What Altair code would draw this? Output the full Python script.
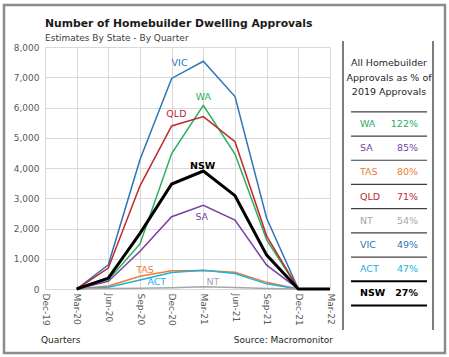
import altair as alt
import pandas as pd

quarters = ["Dec-19", "Mar-20", "Jun-20", "Sep-20", "Dec-20", "Mar-21", "Jun-21", "Sep-21", "Dec-21", "Mar-22"]
states = ["VIC", "WA", "QLD", "NSW", "SA", "TAS", "ACT", "NT"]
VIC = [None, 0, 800, 4280, 6960, 7530, 6360, 2340, 0, 0]
WA  = [None, 0, 300, 1490, 4480, 6070, 4460, 1620, 0, 0]
QLD = [None, 0, 690, 3410, 5390, 5700, 4870, 1750, 0, 0]
NSW = [None, 0, 360, 1840, 3470, 3900, 3085, 1120, 0, 0]
SA  = [None, 0, 250, 1250, 2390, 2770, 2280, 790, 0, 0]
TAS = [None, 0, 100, 420, 605, 615, 550, 220, 0, 0]
ACT = [None, 0, 60, 300, 545, 617, 515, 170, 0, 0]
NT  = [None, 0, 15, 25, 45, 75, 50, 20, 0, 0]
series = [VIC, WA, QLD, NSW, SA, TAS, ACT, NT]
colors = ["#2E75B6", "#2BAE5C", "#C0282D", "#000000", "#7B3FA6", "#ED7D31", "#1EB0E0", "#A6A6A6"]

# label anchors (quarter index, value) for line labels
label_q = [4.25, 5.0, 4.15, 4.98, 4.95, 3.16, 3.53, 5.3]
label_v = [7470, 6350, 5785, 4070, 2380, 630, 220, 220]

# side table
tbl_states = ["WA", "SA", "TAS", "QLD", "NT", "VIC", "ACT", "NSW"]
tbl_pct = ["122%", "85%", "80%", "71%", "54%", "49%", "47%", "27%"]
tbl_colors = ["#2BAE5C", "#7B3FA6", "#ED7D31", "#C0282D", "#A6A6A6", "#2E75B6", "#1EB0E0", "#000000"]

FONT = "DejaVu Sans"

rows = []
for s, vals in zip(states, series):
    for i, v in enumerate(vals):
        if v is not None:
            rows.append({"state": s, "q": i, "value": v})
df = pd.DataFrame(rows)

color_scale = alt.Scale(domain=states, range=colors)
label_expr = "[" + ",".join(f"'{q}'" for q in quarters) + "][datum.value]"

x_enc = alt.X("q:Q", scale=alt.Scale(domain=[0, 9], nice=False),
              axis=alt.Axis(values=list(range(10)), labelExpr=label_expr, labelAngle=90,
                            labelAlign="left", labelBaseline="middle", labelFont=FONT,
                            labelFontSize=9, labelColor="#595959", labelPadding=4,
                            labelOverlap=False, labelFlush=False,
                            domain=False, ticks=False, grid=True, gridColor="#D9D9D9",
                            title=None))
y_enc = alt.Y("value:Q", scale=alt.Scale(domain=[0, 8000], nice=False),
              axis=alt.Axis(values=list(range(0, 8001, 1000)), format=",.0f", labelFont=FONT,
                            labelFontSize=9, labelColor="#595959", labelPadding=6,
                            labelOverlap=False, labelFlush=False,
                            domain=False, ticks=False, grid=True, gridColor="#D9D9D9",
                            title=None))
col_enc = alt.Color("state:N", scale=color_scale, legend=None)

base = alt.Chart(df)
thin = base.transform_filter("datum.state != 'NSW'").mark_line(strokeWidth=1.5).encode(
    x=x_enc, y=y_enc, color=col_enc, detail="state:N")
thick = base.transform_filter("datum.state == 'NSW'").mark_line(strokeWidth=3).encode(
    x=x_enc, y=y_enc, color=col_enc)

lab_df = pd.DataFrame({"state": states, "q": label_q, "value": label_v})
labels = alt.Chart(lab_df).transform_filter("datum.state != 'NSW'").mark_text(
    font=FONT, fontSize=9.5, align="center", baseline="middle").encode(
    x=x_enc, y=y_enc, text="state:N", color=col_enc)
labels_b = alt.Chart(lab_df).transform_filter("datum.state == 'NSW'").mark_text(
    font=FONT, fontSize=9.5, fontWeight="bold", align="center", baseline="middle").encode(
    x=x_enc, y=y_enc, text="state:N", color=col_enc)

main = alt.layer(thin, thick, labels, labels_b)

# table layer with its own row scale
tdf = pd.DataFrame({"state": tbl_states, "pct": tbl_pct, "row": list(range(8)), "col": tbl_colors})
row_scale = alt.Scale(domain=[-3.18, 6.82], reverse=True, nice=False, zero=False)
ty = alt.Y("row:Q", scale=row_scale, axis=None)
tcol = alt.Color("col:N", scale=None)
t_state = alt.Chart(tdf).transform_filter("datum.state != 'NSW'").mark_text(
    font=FONT, fontSize=9.5, align="left", baseline="middle").encode(
    x=alt.value(315), y=ty, text="state:N", color=tcol)
t_pct = alt.Chart(tdf).transform_filter("datum.state != 'NSW'").mark_text(
    font=FONT, fontSize=9.5, align="right", baseline="middle").encode(
    x=alt.value(373), y=ty, text="pct:N", color=tcol)
t_state_b = alt.Chart(tdf).transform_filter("datum.state == 'NSW'").mark_text(
    font=FONT, fontSize=9.5, fontWeight="bold", align="left", baseline="middle").encode(
    x=alt.value(315), y=ty, text="state:N", color=tcol)
t_pct_b = alt.Chart(tdf).transform_filter("datum.state == 'NSW'").mark_text(
    font=FONT, fontSize=9.5, fontWeight="bold", align="right", baseline="middle").encode(
    x=alt.value(373), y=ty, text="pct:N", color=tcol)

sep_df = pd.DataFrame({"row": [k - 0.5 for k in range(9)],
                       "w": [1.2] * 7 + [2, 2],
                       "c": ["#404040"] * 7 + ["#000000", "#000000"]})
seps = alt.Chart(sep_df).mark_rule().encode(
    x=alt.value(306), x2=alt.value(382), y=alt.Y("row:Q", scale=row_scale, axis=None),
    strokeWidth=alt.StrokeWidth("w:Q", scale=None), color=alt.Color("c:N", scale=None))

table = alt.layer(t_state, t_pct, t_state_b, t_pct_b, seps)

annot = pd.DataFrame({"k": [0]})
def txt(t, x, y, size, weight="normal", align="left", color="#262626"):
    return alt.Chart(annot).mark_text(text=t, font=FONT, fontSize=size, fontWeight=weight,
                                      align=align, baseline="middle", color=color).encode(
        x=alt.value(x), y=alt.value(y))

def rule(x, x2, y, y2, color, w):
    return alt.Chart(annot).mark_rule(color=color, strokeWidth=w).encode(
        x=alt.value(x), x2=alt.value(x2), y=alt.value(y), y2=alt.value(y2))

decor = alt.layer(
    txt("Number of Homebuilder Dwelling Approvals", 0, -23, 10.8, "bold", color="#1a1a1a"),
    txt("Estimates By State - By Quarter", 0, -9, 9, color="#404040"),
    txt("Quarters", -4, 293, 9, color="#262626"),
    txt("Source: Macromonitor", 288, 293, 9, align="right", color="#262626"),
    txt("All Homebuilder", 344, 16, 9.5, align="center"),
    txt("Approvals as % of", 344, 31, 9.5, align="center"),
    txt("2019 Approvals", 344, 45, 9.5, align="center"),
    rule(298, 298, -6, 283, "#262626", 1.2),
    rule(388, 388, -6, 283, "#262626", 1.2),
    alt.Chart(annot).mark_rect(fill="white", fillOpacity=0, stroke="#8C8C8C", strokeWidth=2.5).encode(
        x=alt.value(-41), x2=alt.value(400), y=alt.value(-42), y2=alt.value(306)),
)

chart = alt.layer(main, table, decor).resolve_scale(y="independent", color="independent").properties(
    width=285, height=242,
    autosize=alt.AutoSizeParams(type="none"),
    padding={"left": 45, "top": 47, "right": 119, "bottom": 68},
    background="white",
).configure_view(stroke=None)

chart.save("out.html", embed_options={"renderer": "svg", "actions": False})
